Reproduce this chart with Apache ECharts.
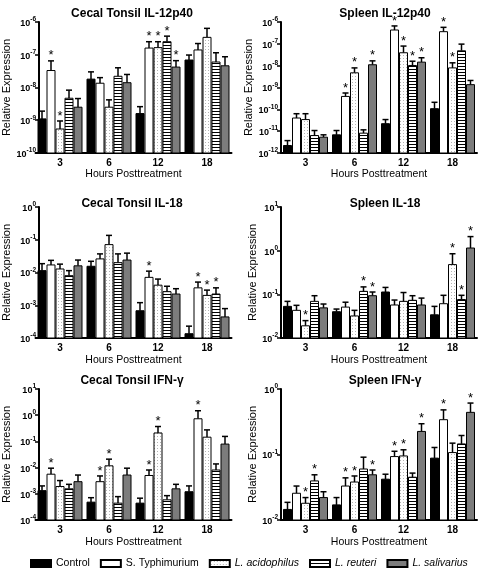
<!DOCTYPE html>
<html><head><meta charset="utf-8">
<script src="https://cdn.jsdelivr.net/npm/echarts@6/dist/echarts.min.js"></script>
<style>html,body{margin:0;padding:0;background:#fff}#c{width:480px;height:572px}</style>
</head><body><div id="c"></div>
<script>
const categories = ['3', '6', '12', '18'];
const treatments = ['Control', 'S. Typhimurium', 'L. acidophilus', 'L. reuteri', 'L. salivarius'];

// rows = treatments (Control, S.Typh, L.acid, L.reut, L.saliv); cols = hours 3,6,12,18
const ctIl12Mean = [
  [1.1e-9, 1.8e-8, 1.6e-9, 6.9e-8],
  [3.3e-8, 1.35e-8, 1.6e-7, 1.4e-7],
  [5.4e-10, 2.5e-9, 1.65e-7, 3.4e-7],
  [4.7e-9, 2.2e-8, 2.5e-7, 6.0e-8],
  [2.5e-9, 1.4e-8, 4.2e-8, 4.6e-8]
];
const ctIl12Upper = [
  [1.9e-9, 3.0e-8, 2.6e-9, 9.8e-8],
  [6.5e-8, 2.0e-8, 2.5e-7, 2.2e-7],
  [9.5e-10, 4.2e-9, 2.5e-7, 6.4e-7],
  [8.3e-9, 4.0e-8, 3.7e-7, 1.15e-7],
  [4.6e-9, 2.5e-8, 6.6e-8, 8.7e-8]
];
const ctIl12Sig = [[0,0,0,0],[1,0,1,0],[1,0,1,0],[0,0,1,0],[0,0,1,0]];

const spIl12Mean = [
  [2.2e-12, 6.8e-12, 2.2e-11, 1.07e-10],
  [4.0e-11, 3.9e-10, 4.3e-7, 3.6e-7],
  [3.4e-11, 4.7e-9, 3.9e-8, 7.9e-9],
  [6.3e-12, 8.1e-12, 1.02e-8, 4.8e-8],
  [5.3e-12, 1.1e-8, 1.45e-8, 1.35e-9]
];
const spIl12Upper = [
  [3.7e-12, 1.07e-11, 3.4e-11, 2.1e-10],
  [6.3e-11, 5.6e-10, 6.6e-7, 5.7e-7],
  [6.3e-11, 7.9e-9, 7.9e-8, 1.35e-8],
  [1.07e-11, 1.15e-11, 1.6e-8, 9.7e-8],
  [6.8e-12, 1.66e-8, 2.3e-8, 2.1e-9]
];
const spIl12Sig = [[0,0,0,0],[0,1,1,1],[0,1,1,1],[0,0,1,0],[0,1,1,0]];

const ctIl18Mean = [
  [1.14e-2, 1.55e-2, 6.8e-4, 1.35e-4],
  [1.7e-2, 2.6e-2, 7.1e-3, 3.4e-3],
  [1.28e-2, 7.1e-2, 4.1e-3, 2.0e-3],
  [8.0e-3, 2.0e-2, 2.6e-3, 2.2e-3],
  [1.6e-2, 2.4e-2, 2.2e-3, 4.4e-4]
];
const ctIl18Upper = [
  [1.86e-2, 2.2e-2, 1.2e-3, 2.3e-4],
  [2.35e-2, 3.7e-2, 1.1e-2, 5.1e-3],
  [1.8e-2, 1.36e-1, 6.3e-3, 2.9e-3],
  [1.14e-2, 3.7e-2, 3.8e-3, 3.4e-3],
  [2.4e-2, 3.9e-2, 3.2e-3, 7.9e-4]
];
const ctIl18Sig = [[0,0,0,0],[0,0,1,1],[0,0,0,1],[0,0,0,1],[0,0,0,0]];

const spIl18Mean = [
  [0.053, 0.040, 0.113, 0.034],
  [0.043, 0.051, 0.057, 0.061],
  [0.019, 0.032, 0.069, 0.48],
  [0.069, 0.117, 0.073, 0.076],
  [0.049, 0.093, 0.057, 1.15]
];
const spIl18Upper = [
  [0.069, 0.046, 0.144, 0.053],
  [0.056, 0.066, 0.074, 0.095],
  [0.025, 0.043, 0.11, 0.85],
  [0.093, 0.148, 0.093, 0.095],
  [0.060, 0.113, 0.082, 2.1]
];
const spIl18Sig = [[0,0,0,0],[0,0,0,0],[1,0,0,1],[0,1,0,1],[0,1,0,1]];

const ctIfnMean = [
  [1.32e-3, 4.8e-4, 4.4e-4, 1.2e-3],
  [5.6e-3, 2.9e-3, 5.0e-3, 0.73],
  [1.9e-3, 1.17e-2, 0.21, 0.145],
  [1.55e-3, 4.4e-4, 5.9e-4, 8.1e-3],
  [2.9e-3, 5.2e-3, 1.55e-3, 0.079]
];
const ctIfnUpper = [
  [2.0e-3, 7.1e-4, 6.8e-4, 2.0e-3],
  [9.5e-3, 4.8e-3, 8.1e-3, 1.48],
  [3.2e-3, 2.1e-2, 0.37, 0.275],
  [2.3e-3, 7.8e-4, 8.5e-4, 1.38e-2],
  [5.2e-3, 9.5e-3, 2.3e-3, 0.155]
];
const ctIfnSig = [[0,0,0,0],[1,1,1,1],[0,1,1,0],[0,0,0,0],[0,0,0,0]];

const spIfnMean = [
  [0.0145, 0.017, 0.042, 0.088],
  [0.0256, 0.033, 0.093, 0.34],
  [0.018, 0.038, 0.095, 0.107],
  [0.0395, 0.060, 0.045, 0.145],
  [0.022, 0.049, 0.225, 0.44]
];
const spIfnUpper = [
  [0.0186, 0.022, 0.050, 0.128],
  [0.033, 0.044, 0.112, 0.48],
  [0.022, 0.047, 0.118, 0.149],
  [0.049, 0.091, 0.052, 0.195],
  [0.027, 0.058, 0.295, 0.61]
];
const spIfnSig = [[0,0,0,0],[0,1,1,1],[1,1,1,0],[1,0,0,0],[0,1,1,1]];

// axis ranges (powers of ten)
const yRanges = [[1e-10, 1e-6], [1e-12, 1e-6], [1e-4, 1e0], [1e-2, 1e1], [1e-4, 1e1], [1e-2, 1e0]];
const titles = ['Cecal Tonsil IL-12p40', 'Spleen IL-12p40', 'Cecal Tonsil IL-18', 'Spleen IL-18', 'Cecal Tonsil IFN-\u03b3', 'Spleen IFN-\u03b3'];

const FONT = '"Liberation Sans", Arial, Helvetica, sans-serif';
const panels = [
  { mean: ctIl12Mean, upper: ctIl12Upper, sig: ctIl12Sig },
  { mean: spIl12Mean, upper: spIl12Upper, sig: spIl12Sig },
  { mean: ctIl18Mean, upper: ctIl18Upper, sig: ctIl18Sig },
  { mean: spIl18Mean, upper: spIl18Upper, sig: spIl18Sig },
  { mean: ctIfnMean, upper: ctIfnUpper, sig: ctIfnSig },
  { mean: spIfnMean, upper: spIfnUpper, sig: spIfnSig }
];

const colLayout = [
  { left: 35.5, width: 196, offset: -3.5, titleX: 127, nameGap: 27 },
  { left: 281, width: 196, offset: 0, titleX: 380, nameGap: 22 }
];
const rowLayout = [
  { top: 22, titleTop: 3, xNameGap: 15 },
  { top: 207, titleTop: 193, xNameGap: 17 },
  { top: 389, titleTop: 370, xNameGap: 17 }
];
const H = 131;

function makeCanvas(w, h, draw) {
  const c = document.createElement('canvas'); c.width = w; c.height = h;
  draw(c.getContext('2d')); return c;
}
const dotCanvas = makeCanvas(3, 3, g => {
  g.fillStyle = '#fff'; g.fillRect(0, 0, 3, 3);
  g.fillStyle = '#b4b4b4'; g.fillRect(1, 1, 1, 1);
});
const stripeCanvas = makeCanvas(1, 3, g => {
  g.fillStyle = '#fff'; g.fillRect(0, 0, 1, 3);
  g.fillStyle = '#000'; g.fillRect(0, 0, 1, 1);
});
const fills = ['#000', '#fff', { image: dotCanvas, repeat: 'repeat' }, { image: stripeCanvas, repeat: 'repeat' }, '#7c7c7c'];

const BW = 8, STEP = 9;
function makeRender(t) {
  return function (params, api) {
    const ci = api.value(0), v = api.value(1), up = api.value(2), s = api.value(3);
    const cs = params.coordSys;
    const p = api.coord([ci, v]);
    const pu = api.coord([ci, up]);
    const cx = p[0] + (t - 2) * STEP;
    const baseY = cs.y + cs.height;
    const children = [
      { type: 'line', shape: { x1: cx, y1: p[1], x2: cx, y2: pu[1] }, style: { stroke: '#000', lineWidth: 1.5 } },
      { type: 'line', shape: { x1: cx - 3, y1: pu[1], x2: cx + 3, y2: pu[1] }, style: { stroke: '#000', lineWidth: 1.5 } },
      { type: 'rect', shape: { x: cx - BW / 2, y: p[1], width: BW, height: baseY - p[1] },
        style: { fill: fills[t], stroke: '#000', lineWidth: 1 } }
    ];
    if (s) children.push({ type: 'text', x: cx, y: pu[1] - 5,
      style: { text: '*', fontSize: 13, fontFamily: FONT, align: 'center', verticalAlign: 'middle', fill: '#000' } });
    return { type: 'group', children };
  };
}

const grids = [], xAxes = [], yAxes = [], series = [], titleOpts = [];
panels.forEach((pn, i) => {
  const col = colLayout[i % 2], row = rowLayout[Math.floor(i / 2)];
  grids.push({ left: col.left, top: row.top, width: col.width, height: H });
  titleOpts.push({ text: titles[i], left: col.titleX, top: row.titleTop, textAlign: 'center',
    textStyle: { fontSize: 12, fontWeight: 'bold', fontFamily: FONT, color: '#000' } });
  xAxes.push({ type: 'category', gridIndex: i, data: categories,
    axisLine: { lineStyle: { color: '#000', width: 2 } },
    axisTick: { alignWithLabel: true, length: 4, lineStyle: { color: '#000', width: 2 } },
    axisLabel: { fontSize: 10, fontWeight: 'bold', color: '#000', fontFamily: FONT, margin: 5 },
    name: 'Hours Posttreatment', nameLocation: 'middle', nameGap: row.xNameGap,
    nameTextStyle: { fontSize: 10.5, color: '#000', fontFamily: FONT } });
  yAxes.push({ type: 'log', logBase: 10, gridIndex: i, min: yRanges[i][0], max: yRanges[i][1], interval: 1,
    offset: col.offset,
    axisLine: { show: true, lineStyle: { color: '#000', width: 2 } },
    axisTick: { show: true, length: 4, lineStyle: { color: '#000', width: 1.5 } },
    splitLine: { show: false }, minorTick: { show: false },
    axisLabel: { margin: 3, fontFamily: FONT,
      formatter: v => '{b|10}{s|' + Math.round(Math.log10(v)) + '}',
      rich: { b: { fontSize: 9, fontWeight: 'bold', color: '#000', fontFamily: FONT, verticalAlign: 'bottom', lineHeight: 12 },
              s: { fontSize: 6.5, fontWeight: 'bold', color: '#000', fontFamily: FONT, verticalAlign: 'top', lineHeight: 12 } } },
    name: 'Relative Expression', nameLocation: 'middle', nameGap: col.nameGap,
    nameTextStyle: { fontSize: 11, color: '#000', fontFamily: FONT } });
  for (let t = 0; t < 5; t++) {
    series.push({ type: 'custom', name: treatments[t], xAxisIndex: i, yAxisIndex: i,
      itemStyle: { color: fills[t], borderColor: '#000', borderWidth: 1 },
      data: categories.map((c, k) => [k, pn.mean[t][k], pn.upper[t][k], pn.sig[t][k]]),
      encode: { x: 0, y: [1, 2] }, clip: false, silent: true,
      renderItem: makeRender(t) });
  }
});

const chart = echarts.init(document.getElementById('c'), null, { renderer: 'canvas' });
chart.setOption({
  animation: false,
  backgroundColor: '#fff',
  title: titleOpts,
  grid: grids, xAxis: xAxes, yAxis: yAxes, series,
  legend: { data: treatments, left: 30, top: 558, padding: 0, itemWidth: 20, itemHeight: 7, itemGap: 10, icon: 'rect',
    selectedMode: false,
    textStyle: { fontSize: 10.5, color: '#000', fontFamily: FONT,
      rich: { i: { fontSize: 10.5, fontStyle: 'italic', color: '#000', fontFamily: FONT } } },
    formatter: n => n.indexOf('L.') === 0 ? '{i|' + n + '}' : n }
});
</script></body></html>
